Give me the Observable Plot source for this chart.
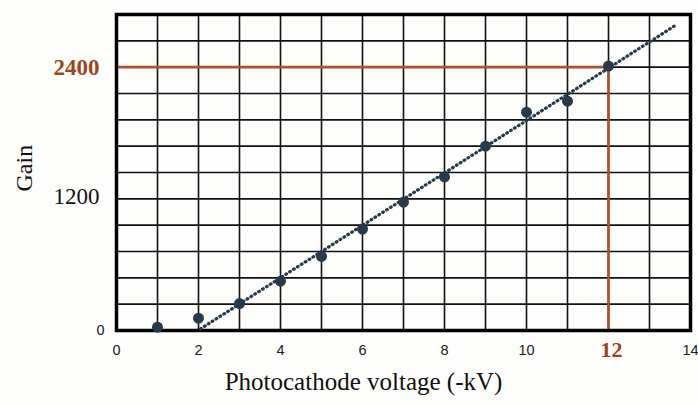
<!DOCTYPE html>
<html>
<head>
<meta charset="utf-8">
<script src="https://cdn.jsdelivr.net/npm/d3@7"></script>
<script src="https://cdn.jsdelivr.net/npm/@observablehq/plot@0.6"></script>
<style>
  html, body { margin: 0; padding: 0; background: #fdfdfb; }
  svg { display: block; }
</style>
</head>
<body>
<div id="chart"></div>
<script>
// Measured points
const voltage = [1, 2, 3, 4, 5, 6, 7, 8, 9, 10, 11, 12];
const gain = [30, 112, 245, 450, 675, 925, 1170, 1400, 1680, 1990, 2090, 2410];
// Fitted line endpoints
const fitVoltage = [2.05, 13.67];
const fitGain = [15, 2790];
// Grid
const gridX = [1, 2, 3, 4, 5, 6, 7, 8, 9, 10, 11, 12, 13];
const gridY = [240, 480, 720, 960, 1200, 1440, 1680, 1920, 2160, 2400, 2640];
// Tick labels
const xTickPlain = [0, 2, 4, 6, 8, 10, 14];
const xTickHighlight = [12];
const yTickHighlight = [2400];
const yTickSerif = [1200];
const yTickSans = [0];
// Marker (operating point)
const markerVoltage = [12];
const markerGain = [2400];

const points = voltage.map((v, i) => ({v, g: gain[i]}));
const fit = fitVoltage.map((v, i) => ({v, g: fitGain[i]}));

const serif = "Liberation Serif, Times New Roman, serif";
const sans = "Liberation Sans, Arial, sans-serif";
const orange = "#ad5227";
const orangeText = "#9c4520";
const navy = "#263a4c";

const chart = Plot.plot({
  width: 698,
  height: 405,
  marginLeft: 116,
  marginRight: 8,
  marginTop: 14,
  marginBottom: 75,
  style: {background: "#fdfdfb", overflow: "visible"},
  x: {domain: [0, 14], axis: null},
  y: {domain: [0, 2880], axis: null},
  marks: [
    Plot.ruleX(gridX, {stroke: "#111", strokeWidth: 1.6}),
    Plot.ruleY(gridY, {stroke: "#111", strokeWidth: 1.6}),
    Plot.ruleY(markerGain, {x1: 0, x2: markerVoltage[0], stroke: orange, strokeWidth: 2.6}),
    Plot.ruleX(markerVoltage, {y1: 0, y2: markerGain[0], stroke: orange, strokeWidth: 2.6}),
    Plot.frame({stroke: "#000", strokeWidth: 3.5}),
    Plot.line(fit, {x: "v", y: "g", stroke: navy, strokeWidth: 3.2, strokeLinecap: "round", strokeDasharray: "0.8 3.8"}),
    Plot.dot(points, {x: "v", y: "g", r: 5.5, fill: navy, stroke: "none"}),
    // x tick labels
    Plot.text(xTickPlain, {x: d => d, frameAnchor: "bottom", dy: 24, text: d => String(d),
      fontFamily: sans, fontSize: 14.5, fill: "#1a1a1a"}),
    Plot.text(xTickHighlight, {x: d => d, frameAnchor: "bottom", dy: 26, dx: 3, text: d => String(d),
      fontFamily: serif, fontSize: 22, fontWeight: "bold", fill: orangeText}),
    // y tick labels
    Plot.text(yTickHighlight, {y: d => d, frameAnchor: "left", dx: -17, textAnchor: "end", text: d => String(d),
      fontFamily: serif, fontSize: 23, fontWeight: "bold", fill: orangeText}),
    Plot.text(yTickSerif, {y: d => d, frameAnchor: "left", dx: -17, dy: -2, textAnchor: "end", text: d => String(d),
      fontFamily: serif, fontSize: 23, fill: "#111"}),
    Plot.text(yTickSans, {y: d => d, frameAnchor: "left", dx: -12, textAnchor: "end", text: d => String(d),
      fontFamily: sans, fontSize: 14.5, fill: "#1a1a1a"}),
    // axis titles
    Plot.text(["Photocathode voltage (-kV)"], {frameAnchor: "bottom", dx: -40, dy: 59,
      fontFamily: serif, fontSize: 25, fill: "#111"}),
    Plot.text(["Gain"], {frameAnchor: "left", dx: -92, dy: 19, rotate: -90,
      fontFamily: serif, fontSize: 24, fill: "#111"})
  ]
});
document.getElementById("chart").appendChild(chart);
</script>
</body>
</html>
